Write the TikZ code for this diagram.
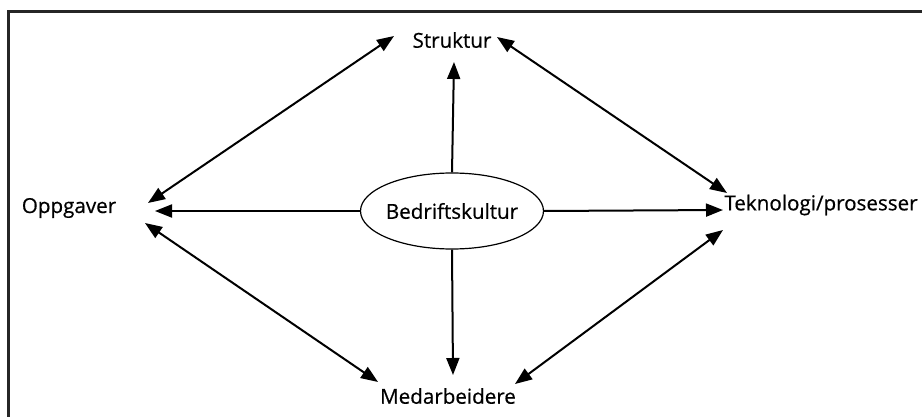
\documentclass[tikz,border=0pt]{standalone}
\usepackage{fontspec}
\setmainfont[FakeBold=0.6]{Open Sans}
\usetikzlibrary{arrows.meta, positioning, shapes.geometric}

\begin{document}
\begin{tikzpicture}[
    x=0.5pt, y=-0.5pt,
    label/.style={font=\fontsize{10.3}{13}\selectfont, inner sep=0pt},
    kultur/.style={ellipse, draw, line width=0.6pt, inner sep=0pt, minimum width=91.5pt, minimum height=38pt, font=\fontsize{10.3}{13}\selectfont},
    link/.style={line width=1pt, -{Triangle[length=8.5pt,width=6.5pt]}},
    twoway/.style={line width=1pt, {Triangle[length=8.5pt,width=6.5pt]}-{Triangle[length=8.5pt,width=6.5pt]}},
    frame/.style={line width=1.5pt, draw=black!85}
]
\useasboundingbox (0,0) rectangle (922,417);
\clip (0,0) rectangle (922,417);

% Frame
\draw[frame] (8,12) rectangle (960,460);

% Nodes
\node[kultur] (bk) at (452,211) {\makebox[0pt]{Bedriftskultur}};
\node[label] (st) at (452,40) {Struktur};
\node[label] (op) at (69,208) {Oppgaver};
\node[label, anchor=west] (te) at (724,205) {Teknologi/prosesser};
\node[label] (me) at (448,396) {Medarbeidere};

% From the culture to the four corners
\draw[link] (bk.north) -- ([shift={(2,22)}]st.center);
\draw[link] (bk.west) -- ([shift={(86,3)}]op.center);
\draw[link] (bk.east) -- ([shift={(-1,5)}]te.west);
\draw[link] (bk.south) -- ([shift={(5,-21)}]me.center);

% Between the corners
\draw[twoway] ([shift={(-58,-4)}]st.center) -- ([shift={(79,-5)}]op.center);
\draw[twoway] ([shift={(45,-3)}]st.center) -- ([shift={(3,-12)}]te.west);
\draw[twoway] ([shift={(76,15)}]op.center) -- ([shift={(-70,-14)}]me.center);
\draw[twoway] ([shift={(-1,25)}]te.west) -- ([shift={(67,-12)}]me.center);

\end{tikzpicture}
\end{document}
